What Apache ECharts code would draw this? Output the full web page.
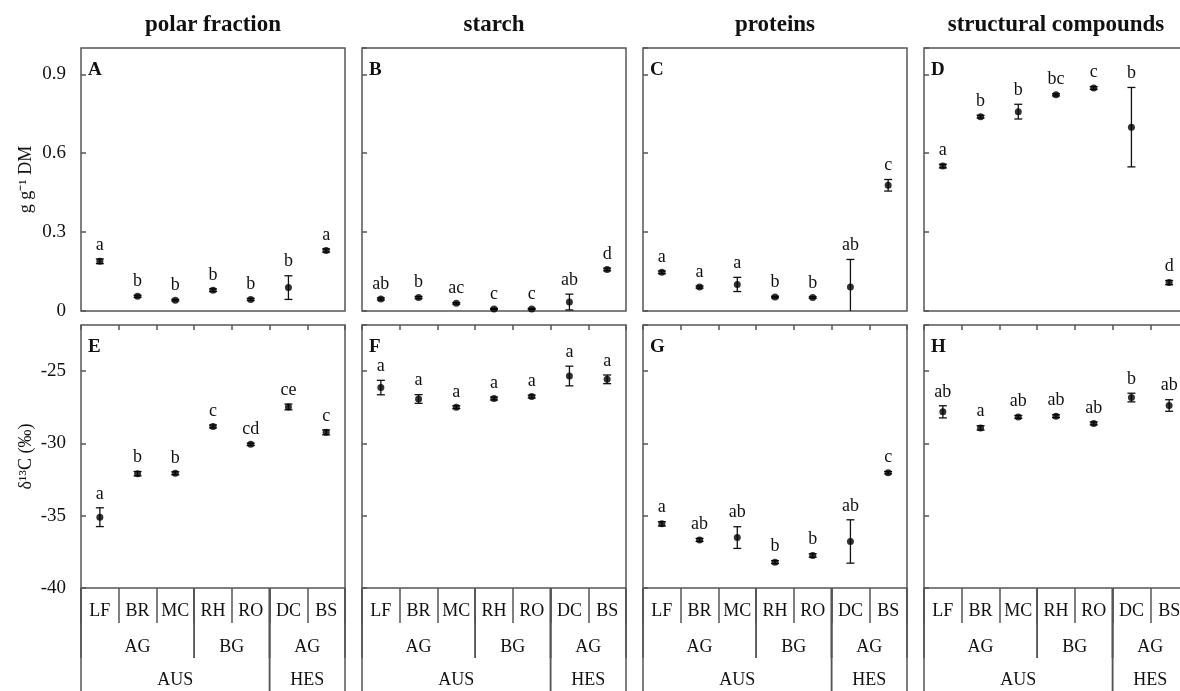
<!DOCTYPE html>
<html>
<head>
<meta charset="utf-8">
<script src="https://cdn.jsdelivr.net/npm/echarts@6/dist/echarts.min.js"></script>
<style>
html,body{margin:0;padding:0;background:#fff;}
#chart{width:1180px;height:691px;}
</style>
</head>
<body>
<div id="chart"></div>
<script>
// ---------- data ----------
const categories = ['LF','BR','MC','RH','RO','DC','BS'];
const organGroups = ['AG','AG','AG','BG','BG','AG','AG'];
const siteGroups = ['AUS','AUS','AUS','AUS','AUS','HES','HES'];
const columnTitles = ['polar fraction','starch','proteins','structural compounds'];
const panelLetters = ['A','B','C','D','E','F','G','H'];
const amountTicks = [0, 0.3, 0.6, 0.9];
const deltaTicks = [-40, -35, -30, -25];

// amounts (g g-1 DM)
const amountPolar = [0.189, 0.056, 0.041, 0.079, 0.044, 0.089, 0.230];
const amountPolarErr = [0.009, 0.004, 0.003, 0.005, 0.004, 0.045, 0.006];
const amountPolarSig = ['a','b','b','b','b','b','a'];

const amountStarch = [0.046, 0.051, 0.029, 0.008, 0.008, 0.034, 0.158];
const amountStarchErr = [0.004, 0.004, 0.003, 0.002, 0.002, 0.030, 0.005];
const amountStarchSig = ['ab','b','ac','c','c','ab','d'];

const amountProtein = [0.147, 0.091, 0.101, 0.053, 0.051, 0.091, 0.478];
const amountProteinErr = [0.005, 0.004, 0.027, 0.003, 0.003, 0.105, 0.022];
const amountProteinSig = ['a','a','a','b','b','ab','c'];

const amountStruct = [0.551, 0.739, 0.758, 0.822, 0.848, 0.699, 0.108];
const amountStructErr = [0.007, 0.005, 0.028, 0.004, 0.005, 0.151, 0.008];
const amountStructSig = ['a','b','b','bc','c','b','d'];

// delta 13C (per mil)
const deltaPolar = [-35.10, -32.09, -32.06, -28.82, -30.06, -27.47, -29.23];
const deltaPolarErr = [0.65, 0.15, 0.10, 0.10, 0.08, 0.20, 0.17];
const deltaPolarSig = ['a','b','b','c','cd','ce','c'];

const deltaStarch = [-26.13, -26.92, -27.49, -26.89, -26.75, -25.33, -25.56];
const deltaStarchErr = [0.50, 0.30, 0.10, 0.10, 0.10, 0.68, 0.30];
const deltaStarchSig = ['a','a','a','a','a','a','a'];

const deltaProtein = [-35.56, -36.67, -36.51, -38.21, -37.75, -36.78, -32.02];
const deltaProteinErr = [0.15, 0.10, 0.75, 0.10, 0.12, 1.50, 0.08];
const deltaProteinSig = ['a','ab','ab','b','b','ab','c'];

const deltaStruct = [-27.81, -28.92, -28.16, -28.11, -28.61, -26.82, -27.37];
const deltaStructErr = [0.42, 0.15, 0.10, 0.10, 0.10, 0.30, 0.40];
const deltaStructSig = ['ab','a','ab','ab','ab','b','ab'];

// ---------- layout / style ----------
const FONT = '"Liberation Serif", "Times New Roman", serif';
const INK = '#111';
const FRAME = '#555';
const gridLefts = [81, 362, 643, 924];
const gridW = 264, gridH = 263;
const topRowY = 48, bottomRowY = 325;

const topPanels = [
  [amountPolar, amountPolarErr, amountPolarSig],
  [amountStarch, amountStarchErr, amountStarchSig],
  [amountProtein, amountProteinErr, amountProteinSig],
  [amountStruct, amountStructErr, amountStructSig]
];
const bottomPanels = [
  [deltaPolar, deltaPolarErr, deltaPolarSig],
  [deltaStarch, deltaStarchErr, deltaStarchSig],
  [deltaProtein, deltaProteinErr, deltaProteinSig],
  [deltaStruct, deltaStructErr, deltaStructSig]
];

// spans for category table (consecutive runs)
function runs(keys, labels) {
  const out = [];
  let s = 0;
  for (let i = 1; i <= keys.length; i++) {
    if (i === keys.length || keys[i] !== keys[s]) {
      out.push({start: s, end: i - 1, label: labels[s]});
      s = i;
    }
  }
  return out;
}
const organRuns = runs(categories.map((c,i)=>siteGroups[i]+'|'+organGroups[i]), organGroups)
  .map(r => Object.assign(r, {level: 1}));
const siteRuns = runs(siteGroups, siteGroups).map(r => Object.assign(r, {level: 2}));
const tableItems = organRuns.concat(siteRuns);

const grids = [], xAxes = [], yAxes = [], series = [], graphics = [];

function errorSeries(vals, errs, sig, xi, yi) {
  return {
    type: 'custom',
    xAxisIndex: xi, yAxisIndex: yi,
    clip: true,
    z: 3,
    encode: {x: 0, y: 1},
    data: vals.map((v, i) => [i, v, errs[i]]),
    renderItem: function (params, api) {
      const x = api.value(0), v = api.value(1), e = api.value(2);
      const c = api.coord([x, v]);
      const t = api.coord([x, v + e]);
      const b = api.coord([x, v - e]);
      const cw = 4;
      const st = {stroke: INK, lineWidth: 1.3};
      return {type: 'group', children: [
        {type: 'line', shape: {x1: c[0], y1: t[1], x2: c[0], y2: b[1]}, style: st},
        {type: 'line', shape: {x1: c[0]-cw, y1: t[1], x2: c[0]+cw, y2: t[1]}, style: st},
        {type: 'line', shape: {x1: c[0]-cw, y1: b[1], x2: c[0]+cw, y2: b[1]}, style: st},
        {type: 'text', style: {text: sig[params.dataIndex], x: c[0], y: t[1] - 14,
          align: 'center', verticalAlign: 'middle', fontSize: 18, fontFamily: FONT, fill: INK}}
      ]};
    }
  };
}

function pointSeries(vals, xi, yi) {
  return {
    type: 'scatter', xAxisIndex: xi, yAxisIndex: yi,
    symbol: 'circle', symbolSize: 7, z: 4,
    itemStyle: {color: '#000'},
    data: vals
  };
}

function tableSeries(xi, yi) {
  return {
    type: 'custom', xAxisIndex: xi, yAxisIndex: yi, clip: false, silent: true,
    encode: {x: 0, y: 1},
    data: tableItems.map(t => [t.start, -40, t.end]),
    renderItem: function (params, api) {
      const it = tableItems[params.dataIndex];
      const cs = params.coordSys;
      const yb = cs.y + cs.height;
      const bw = api.size([1, 0])[0];
      const x0 = api.coord([it.start, -40])[0] - bw / 2;
      const x1 = api.coord([it.end, -40])[0] + bw / 2;
      const textY = yb + (it.level === 1 ? 59 : 92);
      const lineEnd = yb + (it.level === 1 ? 70 : 140);
      const st = {stroke: FRAME, lineWidth: 1.5};
      return {type: 'group', children: [
        {type: 'line', shape: {x1: x0, y1: yb, x2: x0, y2: lineEnd}, style: st},
        {type: 'line', shape: {x1: x1, y1: yb, x2: x1, y2: lineEnd}, style: st},
        {type: 'text', style: {text: it.label, x: (x0 + x1) / 2, y: textY, align: 'center',
          verticalAlign: 'middle', fontSize: 18, fontFamily: FONT, fill: INK}}
      ]};
    }
  };
}

for (let row = 0; row < 2; row++) {
  for (let col = 0; col < 4; col++) {
    const gi = row * 4 + col;
    grids.push({left: gridLefts[col], top: row === 0 ? topRowY : bottomRowY, width: gridW, height: gridH,
      outerBoundsMode: 'none', containLabel: false,
      show: true, borderColor: FRAME, borderWidth: 1.5, backgroundColor: 'transparent'});
    const isTop = row === 0;
    // main x axis
    const xi = xAxes.length;
    xAxes.push({
      type: 'category', gridIndex: gi, data: categories, position: 'bottom',
      boundaryGap: true,
      axisLine: {show: false},
      axisTick: {show: !isTop, inside: false, length: 35, alignWithLabel: false,
        lineStyle: {color: FRAME, width: 1.5}},
      axisLabel: {show: !isTop, fontSize: 18, fontFamily: FONT, color: INK, margin: 14},
      splitLine: {show: false}
    });
    if (!isTop) {
      xAxes.push({
        type: 'category', gridIndex: gi, data: categories, position: 'top',
        axisLine: {show: false},
        axisTick: {show: true, inside: true, length: 5, lineStyle: {color: FRAME, width: 1.5}},
        axisLabel: {show: false}, splitLine: {show: false}
      });
    }
    const yi = yAxes.length;
    const first = col === 0;
    yAxes.push({
      type: 'value', gridIndex: gi,
      min: isTop ? amountTicks[0] : deltaTicks[0],
      max: isTop ? 1.0 : -21.8,
      interval: isTop ? amountTicks[1] - amountTicks[0] : deltaTicks[1] - deltaTicks[0],
      axisLine: {show: false},
      axisTick: {show: true, inside: true, length: 5, lineStyle: {color: FRAME, width: 1.5}},
      axisLabel: {show: first, showMaxLabel: false, fontSize: 19, fontFamily: FONT, color: INK, margin: 15},
      splitLine: {show: false},
      name: first ? (isTop ? 'g g\u207b\u00b9 DM' : '\u03b4\u00b9\u00b3C (\u2030)') : '',
      nameLocation: 'middle', nameRotate: 90, nameGap: 46,
      nameTextStyle: {fontSize: 18, fontFamily: FONT, color: INK}
    });
    const p = isTop ? topPanels[col] : bottomPanels[col];
    series.push(errorSeries(p[0], p[1], p[2], xi, yi));
    series.push(pointSeries(p[0], xi, yi));
    if (!isTop) series.push(tableSeries(xi, yi));
    graphics.push({type: 'text', x: gridLefts[col] + 7, y: (isTop ? topRowY : bottomRowY) + 22,
      style: {text: panelLetters[gi], fontSize: 19, fontWeight: 'bold', fontFamily: FONT, fill: INK,
        align: 'left', verticalAlign: 'middle'}});
  }
}
columnTitles.forEach((t, col) => {
  graphics.push({type: 'text', x: gridLefts[col] + gridW / 2, y: 25,
    style: {text: t, fontSize: 23, fontWeight: 'bold', fontFamily: FONT, fill: INK,
      align: 'center', verticalAlign: 'middle'}});
});

const chart = echarts.init(document.getElementById('chart'), null, {renderer: 'canvas'});
chart.setOption({
  backgroundColor: '#fff',
  animation: false,
  grid: grids,
  xAxis: xAxes,
  yAxis: yAxes,
  series: series,
  graphic: graphics
});
</script>
</body>
</html>
